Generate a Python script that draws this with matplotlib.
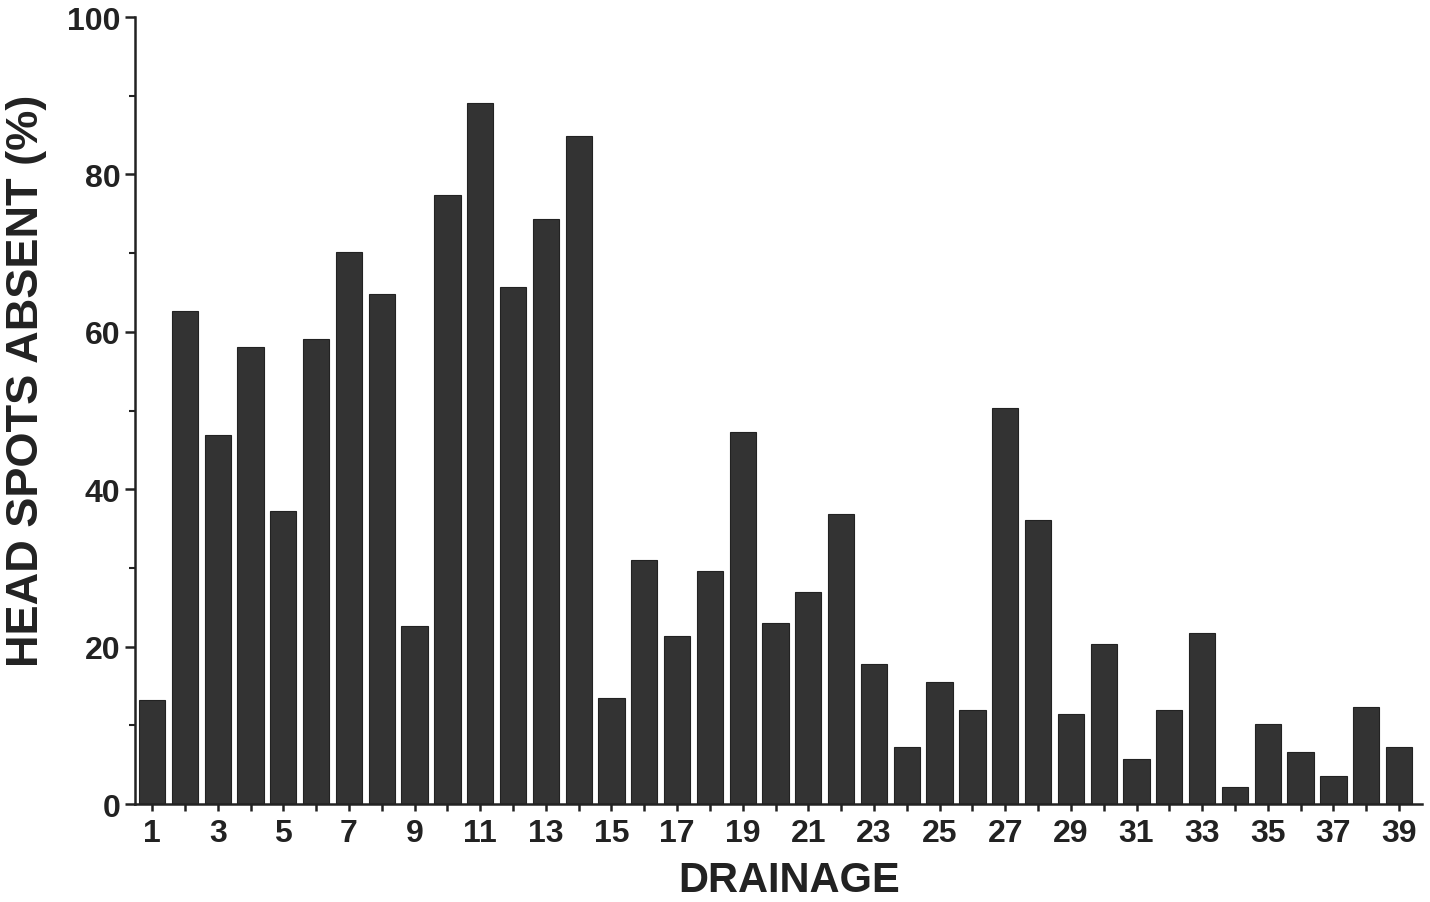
import matplotlib
matplotlib.use("Agg")
import matplotlib.pyplot as plt
from matplotlib.ticker import MultipleLocator

drainage = list(range(1, 40))
absent_pct = [13.2, 62.6, 46.9, 58.1, 37.2, 59.1, 70.1, 64.8, 22.6, 77.4,
              89.1, 65.7, 74.3, 84.9, 13.5, 31.0, 21.3, 29.6, 47.3, 23.0,
              26.9, 36.8, 17.8, 7.2, 15.5, 11.9, 50.3, 36.1, 11.4, 20.3,
              5.7, 11.9, 21.7, 2.2, 10.2, 6.6, 3.6, 12.3, 7.2]
xtick_labels = [str(d) if d % 2 == 1 else "" for d in drainage]

plt.rcParams['font.family'] = ['Liberation Sans', 'DejaVu Sans']
plt.rcParams['font.weight'] = 'bold'

fig = plt.figure(figsize=(14.3, 9.03), dpi=100)
ax = fig.add_axes([0.0944, 0.1085, 0.9, 0.8715])

ax.bar(drainage, absent_pct, width=0.8, color='#333333', edgecolor='#222222', linewidth=0.8)

ax.set_xlim(0.48, 39.7)
ax.set_ylim(0, 100)
ax.set_xticks(drainage)
ax.set_xticklabels(xtick_labels)
ax.yaxis.set_major_locator(MultipleLocator(20))
ax.yaxis.set_minor_locator(MultipleLocator(10))

for s in ['top', 'right']:
    ax.spines[s].set_visible(False)
for s in ['left', 'bottom']:
    ax.spines[s].set_linewidth(1.8)
    ax.spines[s].set_color('#222222')

ax.tick_params(axis='both', which='major', labelsize=23, width=1.8, colors='#222222', length=7)
ax.tick_params(axis='x', which='major', length=5, pad=5)
ax.tick_params(axis='y', which='minor', width=1.5, length=4, colors='#222222')

ax.set_xlabel('DRAINAGE', fontsize=30, fontweight='bold', color='#222222')
ax.set_ylabel('HEAD SPOTS ABSENT (%)', fontsize=32.5, fontweight='bold', color='#222222')
ax.xaxis.set_label_coords(0.508, -0.071)
ax.yaxis.set_label_coords(-0.068, 0.539)

fig.savefig('out.png', dpi=100)
